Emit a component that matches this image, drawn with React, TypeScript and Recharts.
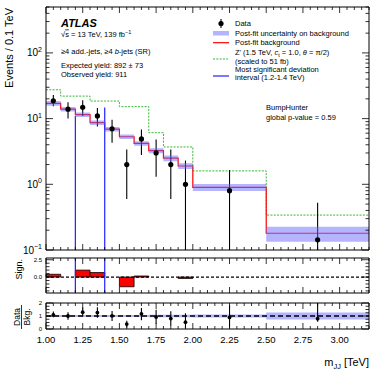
import React from 'react'
import {
  ComposedChart, Line, Area, Scatter, ErrorBar, XAxis, YAxis, ReferenceLine, ReferenceArea,
} from 'recharts'

// bin edges, m_JJ [TeV]
const binEdges = [1.0, 1.1, 1.2, 1.3, 1.4, 1.5, 1.6, 1.7, 1.8, 1.9, 2.0, 2.5, 3.2]
// events / 0.1 TeV
const dataValues = [18.7, 13.9, 14.9, 11.0, 7.0, 2.0, 4.9, 3.0, 2.0, 1.0, 0.8, 0.143]
const dataErrDown = [3.3, 3.9, 3.9, 3.4, 2.7, 1.4, 2.1, 1.7, 1.4, 0.9, 0.7, 0.043]
const dataErrUp = [4.2, 3.9, 4.1, 3.5, 2.6, 1.4, 1.9, 1.8, 1.4, 1.3, 0.85, 0.38]
const bkgValues = [17.1, 13.9, 11.5, 8.7, 6.9, 5.3, 4.2, 3.25, 2.5, 1.9, 0.9, 0.18]
const bkgRelErr = [0.08, 0.08, 0.08, 0.08, 0.08, 0.08, 0.08, 0.09, 0.1, 0.1, 0.12, 0.26]
const zprimeValues = [27.5, 22.0, 22.0, 18.5, 18.5, 15.2, 15.2, 6.1, 3.7, 3.7, 1.6, 0.34]
const significance = [0.4, 0, 1.0, 0.65, 0, -1.4, 0.15, 0, 0, -0.2, 0, 0]

// BumpHunter interval
const intervalEdges = [1.2, 1.4]
const intervalTops = [11, 14.8]

const xMajorTicks = [1.0, 1.25, 1.5, 1.75, 2.0, 2.25, 2.5, 2.75, 3.0]
const xTickLabels = ['1.00', '1.25', '1.50', '1.75', '2.00', '2.25', '2.50', '2.75', '3.00']
const logMajorTicks = [0.1, 1, 10, 100]
const logTickExponents = ['\u22121', '0', '1', '2']
const signMajorTicks = [0, 2.5]
const signTickLabels = ['0.0', '2.5']
const ratioMajorTicks = [0, 1, 2]
const ratioTickLabels = ['0', '1', '2']

const FONT = '"Liberation Sans", Arial, Helvetica, sans-serif'
const W = 374
const PLOT_LEFT = 46
const PLOT_RIGHT = 369
const X_DOMAIN: [number, number] = [1.0, 3.2]
const MAIN_DOMAIN: [number, number] = [0.1, 500]
const SIGN_DOMAIN: [number, number] = [-2.3, 2.75]
const RATIO_DOMAIN: [number, number] = [0, 2]
const BAND = '#6b6bff'

const nBins = bkgValues.length
const centers = binEdges.slice(0, -1).map((e, i) => (e + binEdges[i + 1]) / 2)

const stepRows = binEdges.map((edge, i) => {
  const k = Math.min(i, nBins - 1)
  const b = bkgValues[k]
  const e = bkgRelErr[k]
  return { x: edge, bkg: b, band: [b * (1 - e), b * (1 + e)], zprime: zprimeValues[k], ratioBand: [1 - e, 1 + e] }
})

const pointRows = centers.map((c, i) => ({ x: c, y: dataValues[i], err: [dataErrDown[i], dataErrUp[i]] }))

const ratioRows = centers.map((c, i) => {
  const r = dataValues[i] / bkgValues[i]
  const lo = Math.min(dataErrDown[i] / bkgValues[i], r - RATIO_DOMAIN[0])
  const hi = Math.min(dataErrUp[i] / bkgValues[i], RATIO_DOMAIN[1] - r)
  return { x: c, y: r, err: [lo, hi] }
})

const xAllTicks = Array.from({ length: 45 }, (_, i) => Math.round((1 + i * 0.05) * 100) / 100)
const logAllTicks = logMajorTicks
  .flatMap((d) => [1, 2, 3, 4, 5, 6, 7, 8, 9].map((m) => m * d))
  .filter((v) => v <= MAIN_DOMAIN[1] + 1e-9)
const signAllTicks = Array.from({ length: 10 }, (_, i) => -2 + i * 0.5)
const ratioAllTicks = Array.from({ length: 9 }, (_, i) => i * 0.25)

type TickProps = { x: number; y: number; payload: { value: number } }

const findMajor = (majors: number[], v: number) =>
  majors.findIndex((t) => Math.abs(t - v) < 1e-6 * Math.max(1, Math.abs(t)))

function xTick(side: 'top' | 'bottom', showLabels: boolean) {
  return ({ x, y, payload }: TickProps) => {
    const i = findMajor(xMajorTicks, payload.value)
    const len = i >= 0 ? 6 : 3
    const d = side === 'bottom' ? -1 : 1
    return (
      <g>
        <line x1={x} x2={x} y1={y} y2={y + d * len} stroke="#000" strokeWidth={0.8} />
        {showLabels && i >= 0 && (
          <text x={x} y={y + 14} textAnchor="middle" fontSize={9.5} fill="#000">
            {xTickLabels[i]}
          </text>
        )}
      </g>
    )
  }
}

function yTick(side: 'left' | 'right', majors: number[], label?: (i: number, x: number, y: number) => React.ReactNode) {
  return ({ x, y, payload }: TickProps) => {
    const i = findMajor(majors, payload.value)
    const len = i >= 0 ? 7 : 3.5
    const d = side === 'left' ? 1 : -1
    return (
      <g>
        <line x1={x} x2={x + d * len} y1={y} y2={y} stroke="#000" strokeWidth={0.8} />
        {label && i >= 0 && label(i, x, y)}
      </g>
    )
  }
}

const logLabel = (i: number, x: number, y: number) => (
  <text x={x - 4} y={y + 3.5} textAnchor="end" fontSize={10} fill="#000">
    10<tspan dy={-4.5} fontSize={7}>{logTickExponents[i]}</tspan>
  </text>
)
const smallLabel = (labels: string[]) => (i: number, x: number, y: number) => (
  <text x={x - 4} y={y + 2} textAnchor="end" fontSize={6} fill="#000">{labels[i]}</text>
)

const axisCommon = {
  tickSize: 0,
  tickMargin: 0,
  tickLine: false,
  interval: 0 as const,
  allowDataOverflow: true,
  axisLine: { stroke: '#000', strokeWidth: 1 },
}

// axes are 1px thick so that recharts still draws them
const panelMargin = (top: number, bottom: number) => ({
  top: top - 1, bottom: bottom - 1, left: PLOT_LEFT - 1, right: W - PLOT_RIGHT - 1,
})

function Frame({ yDomain, yTicks, yMajors, label, log, xLabels }: {
  yDomain: [number, number]; yTicks: number[]; yMajors: number[];
  label: (i: number, x: number, y: number) => React.ReactNode; log?: boolean; xLabels?: boolean
}) {
  return [
    <XAxis key="xb" xAxisId={0} dataKey="x" type="number" domain={X_DOMAIN} ticks={xAllTicks} height={1} tick={xTick('bottom', !!xLabels)} {...axisCommon} />,
    <XAxis key="xt" xAxisId="top" orientation="top" dataKey="x" type="number" domain={X_DOMAIN} ticks={xAllTicks} height={1} tick={xTick('top', false)} {...axisCommon} />,
    <YAxis key="yl" yAxisId={0} type="number" scale={log ? 'log' : 'linear'} domain={yDomain} ticks={yTicks} width={1} tick={yTick('left', yMajors, label)} {...axisCommon} />,
    <YAxis key="yr" yAxisId="right" orientation="right" type="number" scale={log ? 'log' : 'linear'} domain={yDomain} ticks={yTicks} width={1} tick={yTick('right', yMajors)} {...axisCommon} />,
  ]
}

const dotShape = (p: any) => <circle cx={p.cx} cy={p.cy} r={2.6} fill="#000" />
const smallDot = (p: any) => <circle cx={p.cx} cy={p.cy} r={1.9} fill="#000" />

function MainPanel() {
  return (
    <ComposedChart width={W} height={258} margin={panelMargin(7, 8)}>
      {Frame({ yDomain: MAIN_DOMAIN, yTicks: logAllTicks, yMajors: logMajorTicks, label: logLabel, log: true })}
      <Line data={stepRows} dataKey="zprime" type="stepAfter" stroke="#36b836" strokeWidth={1} strokeDasharray="2 1.3" dot={false} isAnimationActive={false} />
      <Line data={stepRows} dataKey="bkg" type="stepAfter" stroke="#ff0000" strokeWidth={1.2} dot={false} isAnimationActive={false} />
      <Area data={stepRows} dataKey="band" type="stepAfter" fill={BAND} fillOpacity={0.5} stroke="none" isAnimationActive={false} zIndex={450} />
      {intervalEdges.map((e, i) => (
        <ReferenceLine key={i} segment={[{ x: e, y: MAIN_DOMAIN[0] }, { x: e, y: intervalTops[i] }]} stroke="#2020ff" strokeWidth={1.2} />
      ))}
      <Scatter data={pointRows} dataKey="y" shape={dotShape} isAnimationActive={false}>
        <ErrorBar dataKey="err" direction="y" width={0} stroke="#000" strokeWidth={1.1} />
      </Scatter>
    </ComposedChart>
  )
}

function SignPanel() {
  return (
    <ComposedChart width={W} height={50} margin={panelMargin(8, 7)}>
      {Frame({ yDomain: SIGN_DOMAIN, yTicks: signAllTicks, yMajors: signMajorTicks, label: smallLabel(signTickLabels) })}
      {significance.map((s, i) => s === 0 ? null : (
        <ReferenceArea key={i} x1={binEdges[i]} x2={binEdges[i + 1]} y1={0} y2={s} fill="#ff0000" fillOpacity={1} stroke="#000" strokeWidth={0.8} />
      ))}
      <ReferenceLine y={0} stroke="#000" strokeWidth={1.2} strokeDasharray="3 2" />
      {intervalEdges.map((e) => (
        <ReferenceLine key={e} x={e} stroke="#2020ff" strokeWidth={1.2} />
      ))}
    </ComposedChart>
  )
}

function RatioPanel() {
  return (
    <ComposedChart width={W} height={79} margin={panelMargin(8, 45)}>
      {Frame({ yDomain: RATIO_DOMAIN, yTicks: ratioAllTicks, yMajors: ratioMajorTicks, label: smallLabel(ratioTickLabels), xLabels: true })}
      <Area data={stepRows} dataKey="ratioBand" type="stepAfter" fill={BAND} fillOpacity={0.5} stroke="none" isAnimationActive={false} />
      <ReferenceLine y={1} stroke="#000" strokeWidth={1.5} strokeDasharray="5 3" />
      <Scatter data={ratioRows} dataKey="y" shape={smallDot} isAnimationActive={false}>
        <ErrorBar dataKey="err" direction="y" width={0} stroke="#000" strokeWidth={1.1} />
      </Scatter>
    </ComposedChart>
  )
}

function Overlay() {
  const lx = 213
  const tx = 235
  return (
    <svg width={W} height={W} style={{ position: 'absolute', left: 0, top: 0, pointerEvents: 'none' }}>
      {/* axis titles */}
      <text transform="translate(13,8) rotate(-90)" textAnchor="end" fontSize={11} fill="#000">Events / 0.1 TeV</text>
      <text transform="translate(22,259) rotate(-90)" textAnchor="end" fontSize={9} fill="#000">Sign.</text>
      <g transform="translate(21.5,317) rotate(-90)">
        <text x={0} y={-2} textAnchor="middle" fontSize={8.5} fill="#000">Data</text>
        <line x1={-12} x2={12} y1={0} y2={0} stroke="#000" strokeWidth={0.8} />
        <text x={0} y={8} textAnchor="middle" fontSize={8.5} fill="#000">Bkg.</text>
      </g>
      <text x={369} y={366} textAnchor="end" fontSize={11} fill="#000">
        m<tspan dy={2.5} fontSize={7.5}>JJ</tspan><tspan dy={-2.5}> [TeV]</tspan>
      </text>

      {/* ATLAS block */}
      <text x={61} y={27} fontSize={11} fontWeight={700} fontStyle="italic" fill="#000">ATLAS</text>
      <text x={61} y={36.5} fontSize={7.5} fill="#000">
        √<tspan style={{ textDecoration: 'overline' }}>s</tspan> = 13 TeV, 139 fb<tspan dy={-3} fontSize={5.5}>−1</tspan>
      </text>
      <text x={61} y={54} fontSize={7.5} fill="#000">
        ≥4 add.-jets, ≥4 <tspan fontStyle="italic">b</tspan>-jets (SR)
      </text>
      <text x={61} y={67.5} fontSize={7.5} fill="#000">Expected yield: 892 ± 73</text>
      <text x={61} y={77} fontSize={7.5} fill="#000">Observed yield: 911</text>

      {/* legend */}
      <line x1={221} x2={221} y1={19} y2={28} stroke="#000" strokeWidth={1.1} />
      <circle cx={221} cy={23.5} r={2.6} fill="#000" />
      <text x={tx} y={26} fontSize={7.5} fill="#000">Data</text>
      <rect x={lx} y={31} width={16} height={4.5} fill={BAND} fillOpacity={0.5} />
      <text x={tx} y={36} fontSize={7.5} fill="#000">Post-fit uncertainty on background</text>
      <line x1={lx} x2={lx + 16} y1={42.7} y2={42.7} stroke="#ff0000" strokeWidth={1.2} />
      <text x={tx} y={45.4} fontSize={7.5} fill="#000">Post-fit background</text>
      <line x1={lx} x2={lx + 16} y1={59} y2={59} stroke="#36b836" strokeWidth={1} strokeDasharray="2 1.3" />
      <text x={tx} y={55.4} fontSize={7.5} fill="#000">
        Z' (1.5 TeV, <tspan fontStyle="italic">c</tspan><tspan dy={1.5} fontSize={5.5}>t</tspan><tspan dy={-1.5}> = 1.0, </tspan><tspan fontStyle="italic">θ</tspan> = π/2)
      </text>
      <text x={tx} y={63.7} fontSize={7.5} fill="#000">(scaled to 51 fb)</text>
      <line x1={lx} x2={lx + 16} y1={76} y2={76} stroke="#2020ff" strokeWidth={1.2} />
      <text x={tx} y={72} fontSize={7.5} fill="#000">Most significant deviation</text>
      <text x={tx} y={80} fontSize={7.5} fill="#000">interval (1.2-1.4 TeV)</text>

      <text x={266} y={110} fontSize={7.5} fill="#000">BumpHunter</text>
      <text x={266} y={119.5} fontSize={7.5} fill="#000">global p-value = 0.59</text>
    </svg>
  )
}

export default function App() {
  return (
    <div style={{ position: 'absolute', left: 0, top: 0, width: W, height: W, background: '#fff', fontFamily: FONT }}>
      <div style={{ position: 'absolute', left: 0, top: 0 }}><MainPanel /></div>
      <div style={{ position: 'absolute', left: 0, top: 250 }}><SignPanel /></div>
      <div style={{ position: 'absolute', left: 0, top: 295 }}><RatioPanel /></div>
      <Overlay />
    </div>
  )
}
